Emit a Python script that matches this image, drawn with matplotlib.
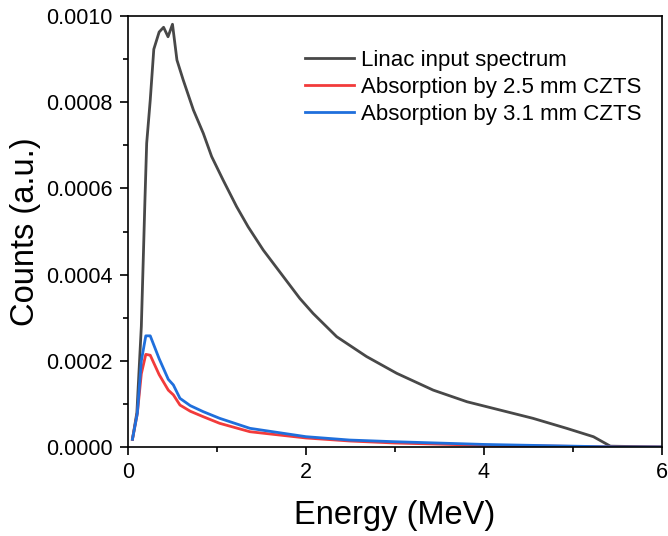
import matplotlib.pyplot as plt
from matplotlib.ticker import MultipleLocator

plt.rcParams["font.family"] = ["Liberation Sans", "DejaVu Sans"]

# Linac input spectrum
e_linac = [0.05, 0.10, 0.15, 0.175, 0.19, 0.21, 0.25, 0.29, 0.35, 0.40, 0.45, 0.50,
           0.55, 0.62, 0.735, 0.846, 0.94, 1.07, 1.22, 1.35, 1.52, 1.93, 2.08,
           2.345, 2.68, 3.02, 3.43, 3.81, 4.18, 4.55, 4.93, 5.23, 5.42, 6.0]
c_linac = [0.000018, 0.00008, 0.00028, 0.00046, 0.00057, 0.000705, 0.000805,
           0.000923, 0.000963, 0.000974, 0.000952, 0.000981, 0.000898, 0.000852,
           0.000782, 0.000728, 0.000674, 0.000619, 0.000558, 0.000511, 0.000457,
           0.000345, 0.00031, 0.000256, 0.00021, 0.000171, 0.000132, 0.000105,
           0.0000858, 0.0000666, 0.0000433, 0.0000239, 0.000002, 0.0]

# Absorbed spectra
e_abs = [0.05, 0.105, 0.15, 0.20, 0.25, 0.35, 0.453, 0.51, 0.584, 0.70, 0.846,
         1.03, 1.37, 2.0, 2.49, 3.0, 4.0, 5.0, 5.5, 6.0]
c_25mm = [0.000018, 0.000078, 0.00017, 0.000215, 0.000213, 0.000168, 0.000132,
          0.000121, 0.0000974, 0.000083, 0.0000703, 0.000055, 0.0000355,
          0.000021, 0.000014, 0.0000093, 0.000004, 0.0000015, 0.0, 0.0]
c_31mm = [0.000018, 0.000078, 0.0002, 0.000258, 0.000258, 0.000205, 0.000157,
          0.000144, 0.000113, 0.000096, 0.000082, 0.0000666, 0.0000434,
          0.000024, 0.0000162, 0.0000123, 0.000006, 0.000002, 0.0, 0.0]

fig = plt.figure(figsize=(6.68, 5.36), dpi=100)
ax = fig.add_axes([0.1916, 0.166, 0.7994, 0.804])

ax.plot(e_linac, c_linac, color="#484848", lw=2.0, label="Linac input spectrum")
ax.plot(e_abs, c_25mm, color="#f23b3b", lw=2.0, label="Absorption by 2.5 mm CZTS")
ax.plot(e_abs, c_31mm, color="#1f6fdc", lw=2.0, label="Absorption by 3.1 mm CZTS")

ax.set_xlim(0, 6)
ax.set_ylim(0, 0.001)
ax.xaxis.set_major_locator(MultipleLocator(2))
ax.xaxis.set_minor_locator(MultipleLocator(1))
ax.yaxis.set_major_locator(MultipleLocator(0.0002))
ax.yaxis.set_minor_locator(MultipleLocator(0.0001))
ax.yaxis.set_major_formatter(plt.FormatStrFormatter("%.4f"))
ax.tick_params(which="major", direction="out", length=6, width=1.2,
               labelsize=15.5, pad=5)
ax.tick_params(which="minor", direction="out", length=3.5, width=1.2)
for s in ax.spines.values():
    s.set_linewidth(1.2)

ax.set_xlabel("Energy (MeV)", fontsize=23.5, labelpad=12)
ax.set_ylabel("Counts (a.u.)", fontsize=23.5, labelpad=4)

ax.legend(loc="upper right", bbox_to_anchor=(1.0, 0.968), frameon=False,
          fontsize=16, handlelength=2.2, handletextpad=0.35, labelspacing=0.27)

plt.savefig("out.png", dpi=100)
